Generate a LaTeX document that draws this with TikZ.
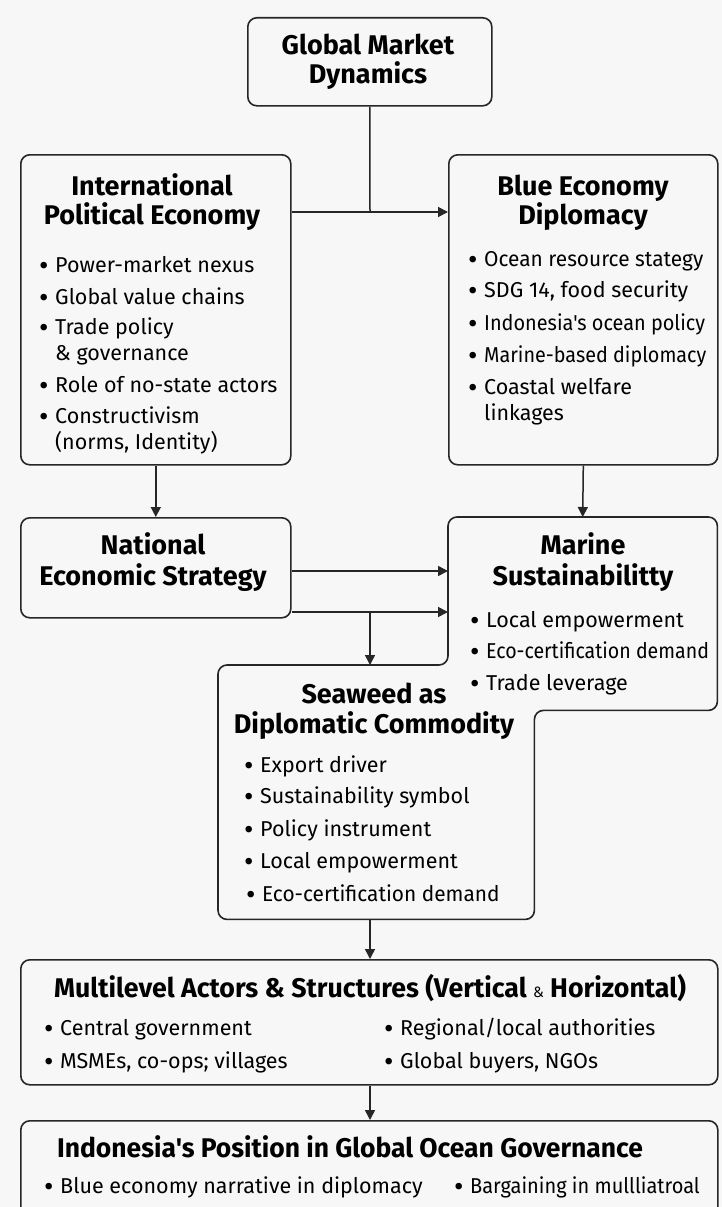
\documentclass[tikz,border=0pt]{standalone}
\usepackage{graphicx}
\usepackage{fontspec}
\setmainfont{Fira Sans}[Ligatures=TeXOff]
\usetikzlibrary{arrows.meta}

\tikzset{
  box/.style={draw=black!85, line width=1.6pt, rounded corners=9pt, anchor=north west, inner sep=0pt},
  area/.style={anchor=north west, inner sep=0pt},
  ttl/.style={font=\bfseries\fontsize{27}{32}\selectfont, anchor=base, inner sep=0pt},
  itm/.style={font=\fontsize{21.5}{26.2}\selectfont, anchor=base west, inner sep=0pt},
  arr/.style={draw=black!85, line width=1.5pt, -{Triangle[length=10pt,width=10pt]}},
  lnk/.style={draw=black!85, line width=1.6pt}
}
\newcommand\bul{\makebox[16pt][l]{\raisebox{-0.17em}{\scalebox{1.35}{\textbullet}}}}
\newcommand\sq[2]{\scalebox{#1}[1]{#2}}
\newcommand\wrap[2]{\vtop{\hbox{\bul #1}\hbox{\hskip16pt #2}}}

\begin{document}
\begin{tikzpicture}[x=1pt,y=-1pt]
  \useasboundingbox (0,0) rectangle (722,1207);
  \clip (0,0) rectangle (722,1207);
  \fill[black!3] (0,0) rectangle (722,1207);

  % boxes
  \node[box, minimum width=244pt, minimum height=88pt] (gmd) at (247,17) {};
  \node[box, minimum width=270pt, minimum height=310pt] (ipe) at (20,154) {};
  \node[box, minimum width=269pt, minimum height=310pt] (blue) at (448,154) {};
  \node[box, minimum width=270pt, minimum height=100pt] (nat) at (20,517) {};
  \node[area, minimum width=269pt, minimum height=193pt] (marine) at (448,517) {};
  \node[area, minimum width=316pt, minimum height=254pt] (sea) at (218,665) {};
  \node[box, minimum width=697pt, minimum height=125pt] (multi) at (20,959) {};
  \node[box, minimum width=697pt, minimum height=130pt] (pos) at (20,1120) {};
  % marine and seaweed share one outline
  \draw[lnk, rounded corners=9pt] (marine.north west) -- (marine.north east)
    -- (marine.south east) -- (sea.east |- marine.south) -- (sea.south east)
    -- (sea.south west) -- (sea.north west) -- (marine.west |- sea.north) -- cycle;

  % titles
  \node[ttl] (gmdA) at (368,55) {Global Market};
  \node[ttl] (gmdB) at (368,84) {Dynamics};
  \node[ttl] (ipeA) at (152,195) {International};
  \node[ttl] (ipeB) at (152,224) {Political Economy};
  \node[ttl] (blueA) at (583,195) {Blue Economy};
  \node[ttl] (blueB) at (583,224) {Diplomacy};
  \node[ttl] (natA) at (153,554) {National};
  \node[ttl] (natB) at (153,585) {Economic Strategy};
  \node[ttl] (marA) at (583,554) {Marine};
  \node[ttl] (marB) at (583,585) {Sustainabilitty};
  \node[ttl] (seaA) at (374,703) {Seaweed as};
  \node[ttl] (seaB) at (374,733) {Diplomatic Commodity};
  \node[ttl] (multiA) at (370,997) {\sq{0.99}{Multilevel Actors \& Structures (Vertical {\mdseries\fontsize{15}{15}\selectfont\&} Horizontal)}};
  \node[ttl] (posA) at (350,1157) {\sq{0.98}{Indonesia's Position in Global Ocean Governance}};

  % bullets
  \node[itm] (ipe1) at (39,272) {\bul Power-market nexus};
  \node[itm] (ipe2) at (39,304) {\bul Global value chains};
  \node[itm] (ipe3) at (39,334) {\wrap{Trade policy}{\& governance}};
  \node[itm] (ipe4) at (39,392) {\bul Role of no-state actors};
  \node[itm] (ipe5) at (39,423) {\wrap{Constructivism}{(norms, Identity)}};

  \node[itm] (blue1) at (468,266) {\bul \sq{0.97}{Ocean resource stategy}};
  \node[itm] (blue2) at (468,297) {\bul SDG 14, food security};
  \node[itm] (blue3) at (468,330) {\bul \sq{0.925}{Indonesia's ocean policy}};
  \node[itm] (blue4) at (468,362) {\bul \sq{0.92}{Marine-based diplomacy}};
  \node[itm] (blue5) at (468,394) {\wrap{Coastal welfare}{linkages}};

  \node[itm] (mar1) at (470,627) {\bul Local empowerment};
  \node[itm] (mar2) at (470,658) {\bul \sq{0.91}{Eco-certification demand}};
  \node[itm] (mar3) at (470,690) {\bul Trade leverage};

  \node[itm] (sea1) at (244,772) {\bul Export driver};
  \node[itm] (sea2) at (244,803) {\bul Sustainability symbol};
  \node[itm] (sea3) at (244,836) {\bul Policy instrument};
  \node[itm] (sea4) at (244,868) {\bul Local empowerment};
  \node[itm] (sea5) at (246,901) {\bul \sq{0.97}{Eco-certification demand}};

  \node[itm] (multi1) at (44,1035) {\bul Central government};
  \node[itm] (multi2) at (44,1068) {\bul MSMEs, co-ops; villages};
  \node[itm] (multi3) at (384,1035) {\bul Regional/local authorities};
  \node[itm] (multi4) at (384,1068) {\bul Global buyers, NGOs};

  \node[itm] (pos1) at (44,1193) {\bul Blue economy narrative in diplomacy};
  \node[itm] (pos2) at (454,1193) {\bul \sq{0.93}{Bargaining in mullliatroal}};

  % connectors
  \coordinate (j1) at (370,212);
  \coordinate (j2) at (370,571);
  \coordinate (j3) at (370,612);
  \draw[lnk, line width=1.5pt] (gmd.south |- gmd.south) -- (j1);
  \draw[arr] (ipe.east |- j1) -- (blue.west |- j1);
  \draw[arr] (ipe.south) -- (nat.north);
  \draw[arr] (blue.south) -- (marine.north);
  \draw[arr] (nat.east |- j2) -- (marine.west |- j2);
  \draw[arr] (nat.east |- j3) -- (marine.west |- j3);
  \draw[arr] (j3) -- (sea.north -| j3);
  \draw[arr] (sea.south -| j3) -- (multi.north -| j3);
  \draw[arr] (multi.south -| j3) -- (pos.north -| j3);
\end{tikzpicture}
\end{document}
